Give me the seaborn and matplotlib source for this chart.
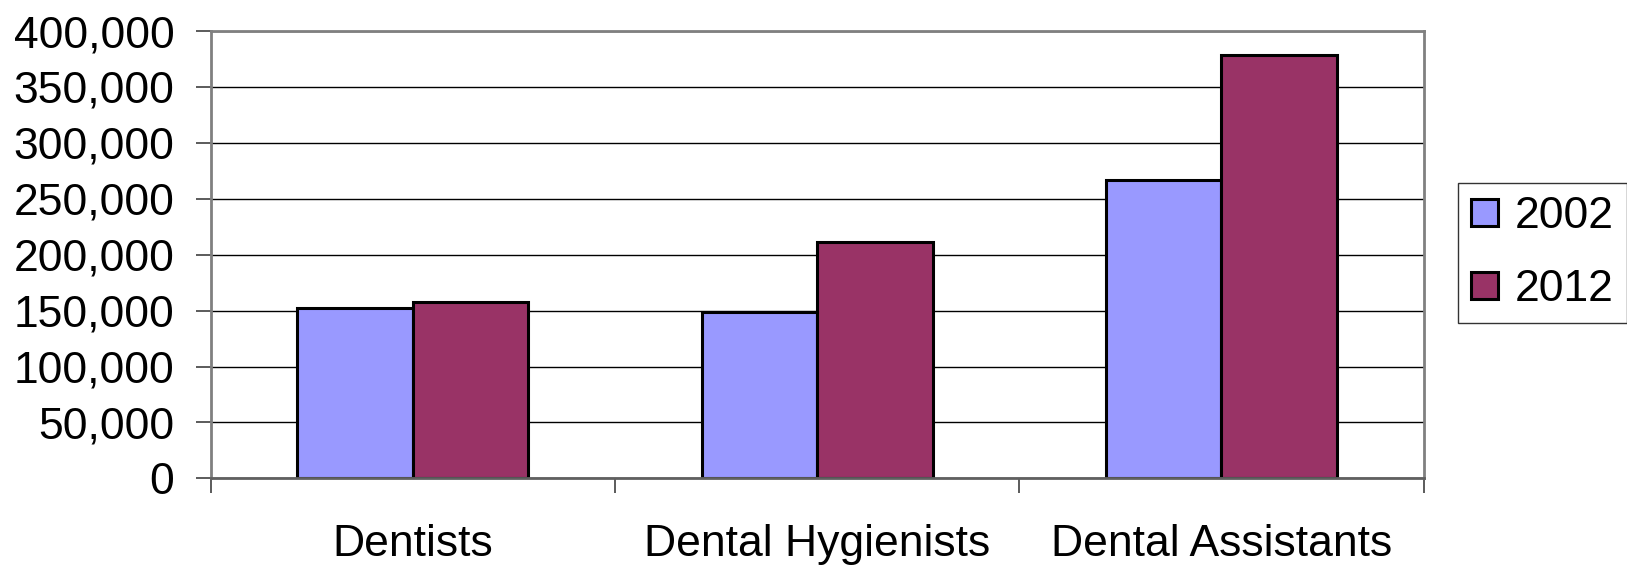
import matplotlib
matplotlib.use("Agg")
import matplotlib.pyplot as plt
import matplotlib.ticker as mticker
import seaborn as sns
import pandas as pd

# Dental workforce employment, 2002 vs 2012
occupations = ["Dentists", "Dental Hygienists", "Dental Assistants"]
years = ["2002", "2012"]
employed_2002 = [152000, 149000, 267000]
employed_2012 = [158000, 211000, 379000]
year_colors = ["#9999FF", "#993366"]
y_ticks = [0, 50000, 100000, 150000, 200000, 250000, 300000, 350000, 400000]

df = pd.DataFrame({
    "occupation": occupations * 2,
    "year": [years[0]] * 3 + [years[1]] * 3,
    "employed": employed_2002 + employed_2012,
})

sns.set_theme(style="white")
plt.rcParams["font.family"] = ["Liberation Sans", "DejaVu Sans"]
plt.rcParams["text.color"] = "black"
plt.rcParams["xtick.color"] = "black"
plt.rcParams["ytick.color"] = "black"
plt.rcParams["xtick.labelcolor"] = "black"
plt.rcParams["ytick.labelcolor"] = "black"

fig = plt.figure(figsize=(16.27, 5.67), dpi=100)
ax = fig.add_axes([0.1294, 0.1563, 0.875 - 0.1294, 0.9453 - 0.1563])

sns.barplot(
    data=df, x="occupation", y="employed", hue="year",
    order=occupations, hue_order=years, palette=year_colors,
    width=0.571, gap=0, dodge=True, ax=ax,
    edgecolor="black", linewidth=2.2, saturation=1, legend=True,
)

ax.set_ylim(0, 400000)
ax.set_xlim(-0.5, 2.5)
ax.set_yticks(y_ticks)
ax.yaxis.set_major_formatter(mticker.FuncFormatter(lambda v, p: f"{int(v):,}"))
ax.yaxis.grid(True, color="black", linewidth=1.0)
ax.set_axisbelow(True)

# category labels at centres, tick marks on category boundaries
ax.set_xticks(range(len(occupations)))
ax.set_xticklabels(occupations)
ax.set_xticks([-0.5, 0.5, 1.5, 2.5], minor=True)
ax.tick_params(axis="x", which="major", length=0, pad=33, labelsize=32,
               labelcolor="black")
ax.tick_params(axis="x", which="minor", length=11, width=1.2, color="#404040",
               direction="out", bottom=True)
ax.tick_params(axis="y", length=11, width=1.2, color="#404040", direction="out",
               left=True, pad=15, labelsize=32, labelcolor="black")

ax.set_xlabel("")
ax.set_ylabel("")

for side in ["left", "top", "right"]:
    ax.spines[side].set_visible(True)
    ax.spines[side].set_color("#808080")
    ax.spines[side].set_linewidth(2.0)
ax.spines["bottom"].set_color("#606060")
ax.spines["bottom"].set_linewidth(2.0)

handles, labels = ax.get_legend_handles_labels()
ax.legend_.remove()
leg = fig.legend(
    handles, labels, loc="center left",
    bbox_to_anchor=(1458 / 1627, 1 - 253 / 567),
    fontsize=32, frameon=True, fancybox=False, edgecolor="black",
    handlelength=0.61, handleheight=0.57, handletextpad=0.36,
    labelspacing=0.72, borderpad=0.3, borderaxespad=0,
)
leg.get_frame().set_linewidth(1.0)
for t in leg.get_texts():
    t.set_color("black")
for h in leg.legend_handles:
    h.set_edgecolor("black")
    h.set_linewidth(2.2)

fig.savefig("out.png", dpi=100, facecolor="white")
